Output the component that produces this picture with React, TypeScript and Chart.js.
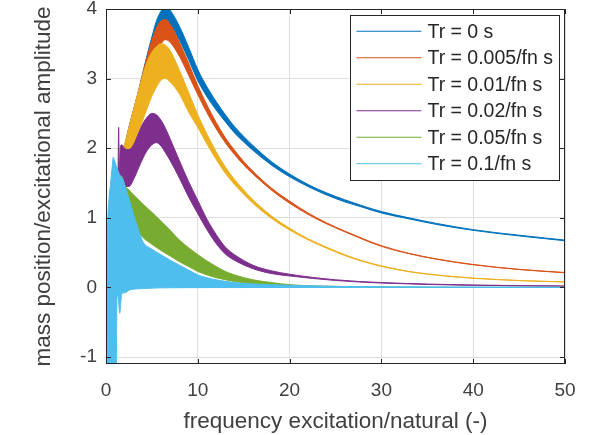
import React, { useEffect, useRef } from 'react';
import { Chart, registerables } from 'chart.js';

Chart.register(...registerables);

// ---------- data ----------
const X_TICKS = [0, 10, 20, 30, 40, 50];
const Y_TICKS = [-1, 0, 1, 2, 3, 4];

const LABELS = ['Tr = 0 s', 'Tr = 0.005/fn s', 'Tr = 0.01/fn s', 'Tr = 0.02/fn s', 'Tr = 0.05/fn s', 'Tr = 0.1/fn s'];
const COLORS = ['#0072BD', '#D95319', '#EDB120', '#7E2F8E', '#77AC30', '#4DBEEE'];

// Tr = 0, 0.005/fn, 0.01/fn share one frequency grid
const X_MAIN = [1.6, 2, 2.5, 3, 3.5, 4, 4.5, 5, 5.5, 6, 6.5, 7, 8, 9, 10, 11, 12, 13, 14, 15, 16, 18, 20, 22, 24, 26, 28, 30, 33, 36, 40, 45, 50];

const BLUE_UPPER = [1.95, 2.03, 2.3, 2.55, 2.8, 3.08, 3.35, 3.6, 3.83, 3.97, 4.03, 3.98, 3.75, 3.45, 3.13, 2.88, 2.67, 2.48, 2.31, 2.17, 2.04, 1.81, 1.63, 1.48, 1.36, 1.26, 1.17, 1.09, 1.0, 0.92, 0.83, 0.75, 0.68];
const BLUE_LOWER = [1.6, 1.7, 1.9, 2.1, 2.35, 2.6, 2.9, 3.2, 3.5, 3.72, 3.8, 3.77, 3.55, 3.27, 2.97, 2.74, 2.55, 2.38, 2.22, 2.09, 1.97, 1.76, 1.59, 1.45, 1.33, 1.23, 1.15, 1.07, 0.985, 0.905, 0.82, 0.74, 0.67];

const ORANGE_UPPER = [1.95, 2.03, 2.3, 2.55, 2.8, 3.07, 3.32, 3.55, 3.73, 3.83, 3.85, 3.78, 3.52, 3.22, 2.9, 2.62, 2.37, 2.15, 1.97, 1.81, 1.67, 1.43, 1.24, 1.07, 0.93, 0.81, 0.7, 0.6, 0.49, 0.41, 0.33, 0.26, 0.215];
const ORANGE_LOWER = [1.6, 1.7, 1.9, 2.1, 2.35, 2.6, 2.85, 3.1, 3.33, 3.5, 3.56, 3.52, 3.32, 3.05, 2.77, 2.51, 2.28, 2.08, 1.91, 1.76, 1.63, 1.4, 1.21, 1.05, 0.915, 0.8, 0.69, 0.59, 0.485, 0.405, 0.325, 0.257, 0.21];

const YELLOW_UPPER = [1.95, 2.05, 2.3, 2.55, 2.8, 3.05, 3.25, 3.38, 3.46, 3.5, 3.48, 3.4, 3.12, 2.8, 2.48, 2.2, 1.95, 1.73, 1.55, 1.4, 1.26, 1.03, 0.85, 0.7, 0.58, 0.47, 0.38, 0.31, 0.23, 0.18, 0.135, 0.1, 0.08];
const YELLOW_LOWER = [1.6, 1.7, 1.85, 2.0, 2.2, 2.4, 2.58, 2.75, 2.88, 2.98, 3.0, 2.95, 2.78, 2.52, 2.3, 2.06, 1.84, 1.64, 1.48, 1.34, 1.21, 0.995, 0.825, 0.685, 0.565, 0.458, 0.372, 0.302, 0.226, 0.176, 0.131, 0.098, 0.078];

const PURPLE_X = [1.3, 1.38, 1.45, 1.55, 1.7, 2, 2.5, 3, 3.5, 4, 4.5, 5, 5.5, 6, 6.5, 7, 8, 9, 10, 11, 12, 13, 14, 16, 18, 20, 25, 30, 40, 50];
const PURPLE_UPPER = [1.5, 2.3, 1.6, 2.0, 2.05, 2.0, 1.98, 2.05, 2.2, 2.35, 2.45, 2.5, 2.48, 2.4, 2.28, 2.13, 1.82, 1.52, 1.25, 0.98, 0.76, 0.58, 0.47, 0.32, 0.24, 0.19, 0.11, 0.07, 0.035, 0.02];
const PURPLE_LOWER = [1.2, 1.3, 1.3, 1.45, 1.5, 1.45, 1.45, 1.55, 1.7, 1.85, 1.97, 2.05, 2.08, 2.03, 1.93, 1.82, 1.57, 1.3, 1.06, 0.83, 0.63, 0.48, 0.39, 0.27, 0.2, 0.165, 0.1, 0.063, 0.03, 0.018];

const GREEN_X = [1.55, 1.7, 2, 2.5, 3, 4, 5, 6, 7, 8, 9, 10, 11, 12, 13, 14, 16, 18, 20, 25, 30, 40, 50];
const GREEN_UPPER = [1.3, 1.6, 1.48, 1.4, 1.33, 1.2, 1.08, 0.95, 0.82, 0.68, 0.57, 0.47, 0.38, 0.3, 0.23, 0.18, 0.11, 0.07, 0.04, 0.015, 0.005, 0, 0];
const GREEN_LOWER = [1.0, 1.1, 1.0, 0.95, 0.88, 0.72, 0.62, 0.53, 0.45, 0.37, 0.3, 0.23, 0.18, 0.14, 0.11, 0.085, 0.05, 0.03, 0.02, 0.008, 0.003, 0, 0];

const CYAN_X = [0, 0.1, 0.2, 0.35, 0.5, 0.65, 0.8, 0.9, 1.0, 1.1, 1.2, 1.3, 1.5, 1.7, 1.85, 2.2, 2.5, 3, 3.5, 4, 5, 6, 7, 8, 9, 10, 12, 14, 16, 20, 25, 30, 40, 50];
const CYAN_UPPER = [0, 0.5, 1.0, 1.3, 1.5, 1.7, 1.87, 1.83, 1.8, 1.75, 1.72, 1.68, 1.62, 1.58, 1.55, 1.4, 1.27, 1.05, 0.85, 0.66, 0.55, 0.47, 0.39, 0.32, 0.25, 0.18, 0.11, 0.07, 0.05, 0.03, 0.015, 0.01, 0.005, 0.003];
const CYAN_LOWER = [0, -0.6, -1.3, -1.3, -1.3, -1.3, -1.3, -1.3, -1.3, -1.3, -0.15, -0.12, -0.37, -0.1, -0.08, -0.07, -0.04, -0.025, -0.02, -0.015, -0.01, -0.006, -0.005, -0.004, -0.003, -0.003, -0.002, -0.002, -0.001, -0.001, 0, 0, 0, 0];

const X_TITLE = 'frequency excitation/natural (-)';
const Y_TITLE = 'mass position/excitational amplitude';

const SERIES = [
  { label: LABELS[0], color: COLORS[0], xs: X_MAIN, upper: BLUE_UPPER, lower: BLUE_LOWER },
  { label: LABELS[1], color: COLORS[1], xs: X_MAIN, upper: ORANGE_UPPER, lower: ORANGE_LOWER },
  { label: LABELS[2], color: COLORS[2], xs: X_MAIN, upper: YELLOW_UPPER, lower: YELLOW_LOWER },
  { label: LABELS[3], color: COLORS[3], xs: PURPLE_X, upper: PURPLE_UPPER, lower: PURPLE_LOWER },
  { label: LABELS[4], color: COLORS[4], xs: GREEN_X, upper: GREEN_UPPER, lower: GREEN_LOWER },
  { label: LABELS[5], color: COLORS[5], xs: CYAN_X, upper: CYAN_UPPER, lower: CYAN_LOWER },
];

// ---------- styling ----------
const FONT = "'Liberation Sans', Arial, Helvetica, sans-serif";
const TEXT = '#404040';

const pts = (xs: number[], ys: number[]) => xs.map((x, i) => ({ x, y: ys[i] }));

const axesBoxPlugin = {
  id: 'axesBox',
  afterDatasetsDraw(chart: any) {
    const { ctx, chartArea: a, scales } = chart;
    ctx.save();
    ctx.strokeStyle = '#262626';
    ctx.lineWidth = 1;
    ctx.strokeRect(a.left + 0.5, a.top + 0.5, a.right - a.left - 1, a.bottom - a.top - 1);
    const tl = 5;
    ctx.beginPath();
    X_TICKS.forEach((v) => {
      const px = Math.round(scales.x.getPixelForValue(v)) + 0.5;
      ctx.moveTo(px, a.bottom); ctx.lineTo(px, a.bottom - tl);
      ctx.moveTo(px, a.top); ctx.lineTo(px, a.top + tl);
    });
    Y_TICKS.forEach((v) => {
      const py = Math.round(scales.y.getPixelForValue(v)) + 0.5;
      ctx.moveTo(a.left, py); ctx.lineTo(a.left + tl, py);
      ctx.moveTo(a.right, py); ctx.lineTo(a.right - tl, py);
    });
    ctx.stroke();
    ctx.restore();
  },
};

const legendPlugin = {
  id: 'insideLegend',
  afterDraw(chart: any) {
    const { ctx, chartArea: a } = chart;
    ctx.save();
    ctx.font = `19.5px ${FONT}`;
    const sample = 65, gap = 6, pad = 6, rowH = 26.5;
    const textW = Math.max(...LABELS.map((l) => ctx.measureText(l).width));
    const w = pad + sample + gap + textW + pad;
    const h = LABELS.length * rowH + 6;
    const right = a.right - 6;
    const left = right - w;
    const top = a.top + 6;
    ctx.fillStyle = '#ffffff';
    ctx.fillRect(left, top, w, h);
    ctx.strokeStyle = '#262626';
    ctx.lineWidth = 1;
    ctx.strokeRect(Math.round(left) + 0.5, Math.round(top) + 0.5, Math.round(w), Math.round(h));
    ctx.textBaseline = 'middle';
    ctx.textAlign = 'left';
    LABELS.forEach((l, i) => {
      const cy = top + 3 + rowH * (i + 0.5);
      ctx.strokeStyle = COLORS[i];
      ctx.lineWidth = 1.2;
      ctx.beginPath();
      ctx.moveTo(left + pad, cy);
      ctx.lineTo(left + pad + sample, cy);
      ctx.stroke();
      ctx.fillStyle = '#262626';
      ctx.fillText(l, left + pad + sample + gap, cy + 1);
    });
    ctx.restore();
  },
};

export default function App() {
  const ref = useRef<HTMLCanvasElement | null>(null);

  useEffect(() => {
    if (!ref.current) return;
    const datasets: any[] = [];
    SERIES.forEach((s, i) => {
      const order = (SERIES.length - i) * 2;
      const common = {
        borderColor: s.color,
        backgroundColor: s.color,
        borderWidth: 1,
        pointRadius: 0,
        cubicInterpolationMode: 'monotone',
        order,
      };
      datasets.push({ ...common, label: s.label, data: pts(s.xs, s.upper), fill: false });
      datasets.push({ ...common, label: s.label + ' lower', data: pts(s.xs, s.lower), fill: '-1' });
    });

    const chart = new Chart(ref.current, {
      type: 'line',
      data: { datasets },
      options: {
        responsive: false,
        animation: false,
        devicePixelRatio: 1,
        layout: { padding: { left: 0, right: 40, top: 9, bottom: 0 } },
        plugins: { legend: { display: false }, tooltip: { enabled: false } },
        scales: {
          x: {
            type: 'linear',
            min: 0,
            max: 50,
            afterBuildTicks: (s: any) => { s.ticks = X_TICKS.map((v) => ({ value: v })); },
            afterFit: (s: any) => { s.height = 71; s.paddingLeft = 0; s.paddingRight = 0; },
            ticks: { font: { family: FONT, size: 19 }, color: TEXT, padding: 15, maxRotation: 0, autoSkip: false },
            grid: { color: '#dedede', drawTicks: false, lineWidth: 1 },
            border: { display: false },
            title: { display: true, text: X_TITLE, font: { family: FONT, size: 22.5 }, color: TEXT, padding: { top: 0, bottom: 0 } },
          },
          y: {
            type: 'linear',
            min: -1.1,
            max: 4,
            afterBuildTicks: (s: any) => { s.ticks = Y_TICKS.map((v) => ({ value: v })); },
            afterFit: (s: any) => { s.width = 106; s.paddingTop = 0; s.paddingBottom = 0; },
            ticks: { font: { family: FONT, size: 19 }, color: TEXT, padding: 9, autoSkip: false },
            grid: { color: '#dedede', drawTicks: false, lineWidth: 1 },
            border: { display: false },
            title: { display: true, text: Y_TITLE, font: { family: FONT, size: 22.5 }, color: TEXT, padding: { top: 30, bottom: 0 } },
          },
        },
      },
      plugins: [axesBoxPlugin, legendPlugin],
    } as any);
    return () => chart.destroy();
  }, []);

  return (
    <div style={{ position: 'fixed', left: 0, top: 0, width: 605, height: 435, background: '#fff' }}>
      <canvas ref={ref} width={605} height={435} style={{ display: 'block' }} />
    </div>
  );
}
